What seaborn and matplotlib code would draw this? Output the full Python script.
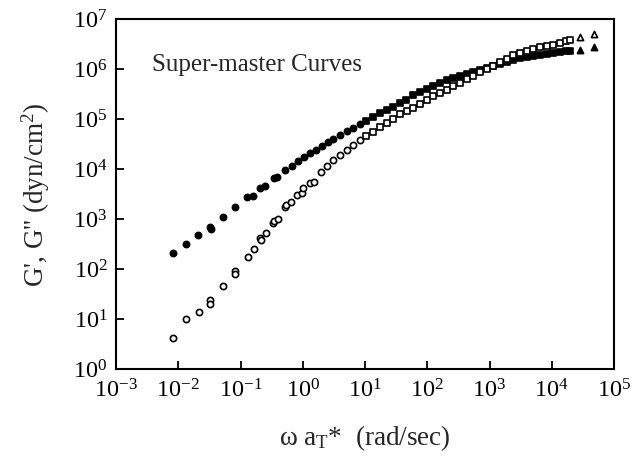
import math
import matplotlib
matplotlib.use("Agg")
import matplotlib.pyplot as plt
from matplotlib.ticker import LogLocator, FuncFormatter, NullLocator
import seaborn as sns
import pandas as pd

# ---- data (rad/sec, dyn/cm^2) ----
# G'' (filled markers)
gpp_circ_x = [8.2e-3, 1.33e-2, 2.07e-2, 3.23e-2, 3.35e-2, 5.21e-2, 8.13e-2, 0.127, 0.158, 0.205,
              0.247, 0.344, 0.384, 0.516, 0.668, 0.834, 1.04, 1.30, 1.62, 2.03,
              2.53, 3.04, 3.94, 5.10, 6.37, 8.25]
gpp_circ_y = [212, 321, 485, 701, 640, 1110, 1760, 2790, 2920, 4230,
              4630, 6700, 7020, 9680, 11600, 14700, 17600, 21200, 24300, 29200,
              35200, 40400, 48500, 58300, 67000, 80500]
gpp_sq_x = [10.3, 13.3, 17.3, 22.4, 27.9, 36.2, 45.2, 58.5, 75.8, 98.2,
            122, 159, 206, 257, 333, 431, 538, 696, 902, 1125,
            1460, 1890, 2360, 3050, 3950, 4930, 6390, 8280, 10300, 13400,
            16700, 19400]
gpp_sq_y = [92500, 111000, 134000, 153000, 176000, 212000, 243000, 306000, 352000, 404000,
            463000, 532000, 611000, 670000, 735000, 805000, 883000, 968000, 1.06e6, 1.16e6,
            1.28e6, 1.40e6, 1.53e6, 1.68e6, 1.76e6, 1.85e6, 1.93e6, 2.02e6, 2.12e6, 2.22e6,
            2.32e6, 2.32e6]
gpp_tri_x = [28800, 47500]
gpp_tri_y = [2.43e6, 2.75e6]

# G' (open markers)
gp_circ_x = [8.3e-3, 1.33e-2, 2.15e-2, 3.29e-2, 3.29e-2, 5.21e-2, 8.13e-2, 8.13e-2, 0.130, 0.162,
             0.205, 0.210, 0.253, 0.327, 0.344, 0.394, 0.516, 0.535, 0.637, 0.794,
             0.957, 1.01, 1.30, 1.51, 2.00, 2.44, 3.04, 3.94, 5.05, 6.37,
             8.25]
gp_circ_y = [4.29, 10.0, 13.7, 23.8, 20.2, 46.3, 94.6, 82.4, 176, 249,
             429, 385, 525, 832, 938, 1010, 1740, 1930, 2250, 3060,
             3310, 4170, 5400, 5650, 8950, 11600, 15300, 19300, 24300, 30600,
             38500]
gp_sq_x = [10.3, 13.4, 17.3, 22.3, 27.9, 36.2, 46.9, 58.5, 75.8, 98.2,
           122, 159, 206, 257, 333, 431, 538, 696, 902, 1125,
           1460, 1890, 2360, 3050, 3950, 4930, 6390, 8280, 10300, 13400,
           16700, 19400]
gp_sq_y = [46300, 56500, 70100, 83200, 101000, 128000, 147000, 168000, 202000, 243000,
           292000, 336000, 385000, 463000, 532000, 640000, 735000, 883000, 1.01e6, 1.16e6,
           1.40e6, 1.61e6, 1.93e6, 2.12e6, 2.32e6, 2.55e6, 2.79e6, 2.92e6, 3.06e6, 3.36e6,
           3.68e6, 3.85e6]
gp_tri_x = [28800, 47500]
gp_tri_y = [4.49e6, 5.08e6]

title_text = "Super-master Curves"
x_label = r"$\mathregular{\omega\ a_T}$*  (rad/sec)"
y_label = r"G', G'' (dyn/cm$\mathregular{^2}$)"

# ---- style ----
sns.set_theme(style="ticks")
plt.rcParams["font.family"] = ["Liberation Serif", "DejaVu Serif"]
plt.rcParams["mathtext.fontset"] = "custom"
plt.rcParams["mathtext.rm"] = "Liberation Serif"
plt.rcParams["mathtext.it"] = "Liberation Serif:italic"
plt.rcParams["mathtext.bf"] = "Liberation Serif:bold"

fig = plt.figure(figsize=(6.41, 4.57), dpi=100)
ax = fig.add_axes([116 / 641, 1 - 369.3 / 457, 498 / 641, 350 / 457])

groups = [
    (gpp_circ_x, gpp_circ_y, "o", True),
    (gpp_sq_x, gpp_sq_y, "s", True),
    (gpp_tri_x, gpp_tri_y, "^", True),
    (gp_circ_x, gp_circ_y, "o", False),
    (gp_sq_x, gp_sq_y, "s", False),
    (gp_tri_x, gp_tri_y, "^", False),
]
for xs, ys, mk, filled in groups:
    df = pd.DataFrame({"freq": xs, "mod": ys})
    sns.scatterplot(data=df, x="freq", y="mod", ax=ax, marker=mk,
                    s=20 if mk != "s" else 17,
                    facecolor="black" if filled else "white",
                    edgecolor="black", linewidth=1.2, zorder=3 if filled else 4,
                    legend=False)

ax.set_xscale("log")
ax.set_yscale("log")
ax.set_xlim(1e-3, 1e5)
ax.set_ylim(1e0, 1e7)

fmt = FuncFormatter(lambda v, p: r"$\mathregular{10^{%d}}$" % round(math.log10(v)))
ax.xaxis.set_major_locator(LogLocator(base=10, numticks=20))
ax.yaxis.set_major_locator(LogLocator(base=10, numticks=20))
ax.xaxis.set_minor_locator(NullLocator())
ax.yaxis.set_minor_locator(NullLocator())
ax.xaxis.set_major_formatter(fmt)
ax.yaxis.set_major_formatter(fmt)

ax.tick_params(axis="both", which="major", direction="in", length=6, width=1.3,
               labelsize=17.5, colors="black", top=False, right=False)
ax.tick_params(axis="x", pad=7)
ax.tick_params(axis="y", pad=6)
for sp in ax.spines.values():
    sp.set_visible(True)
    sp.set_linewidth(1.5)
    sp.set_color("black")

ax.set_xlabel(x_label, fontsize=19.5, labelpad=15)
ax.set_ylabel(y_label, fontsize=19.5, labelpad=15)

ax.text(0.072, 0.87, title_text, transform=ax.transAxes, fontsize=18,
        ha="left", va="center")

fig.savefig("out.png", dpi=100)
